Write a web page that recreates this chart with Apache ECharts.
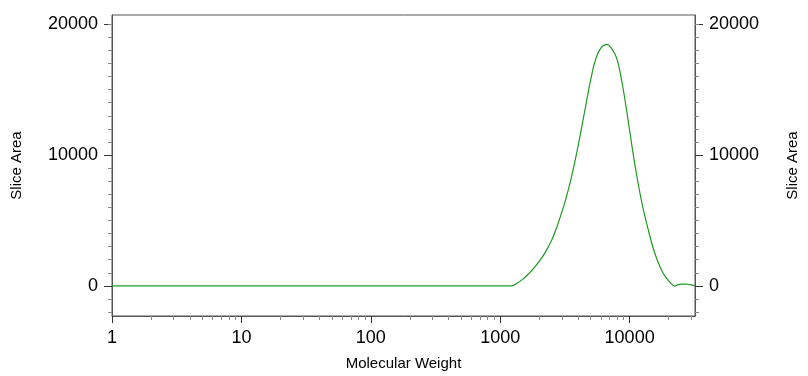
<!DOCTYPE html>
<html><head><meta charset="utf-8">
<script src="https://cdn.jsdelivr.net/npm/echarts@6/dist/echarts.min.js"></script>
<style>html,body{margin:0;padding:0;background:#fff;overflow:hidden}#c{width:808px;height:376px}</style>
</head><body><div id="c"></div>
<script>
// Molecular weight (x) and slice area (y)
const molWeight = [1, 1100, 1230, 1349, 1479, 1622, 1778, 1995, 2239, 2512, 2818, 3162, 3548, 3981, 4467, 5012, 5495, 6026, 6653, 7244, 7943, 8710, 9550, 10471, 11482, 12589, 13804, 15136, 16596, 18197, 19953, 21380, 22182, 23442, 25119, 27542, 29512, 31842];
const sliceArea = [0, 0, 0, 200, 480, 830, 1250, 1850, 2600, 3550, 4850, 6400, 8300, 10600, 13200, 15800, 17400, 18200, 18450, 18150, 17400, 15600, 13200, 10550, 8150, 6100, 4450, 2950, 1800, 950, 400, 100, -20, 80, 140, 130, 100, 0];
const xMajorTicks = [1, 10, 100, 1000, 10000];
const xMinorTicks = [2,3,4,5,6,7,8,9,20,30,40,50,60,70,80,90,200,300,400,500,600,700,800,900,2000,3000,4000,5000,6000,7000,8000,9000,20000,30000];
const yMajorTicks = [0, 10000, 20000];
const yMinorTicks = [-2000,-1000,1000,2000,3000,4000,5000,6000,7000,8000,9000,11000,12000,13000,14000,15000,16000,17000,18000,19000,20000];

const xMin = 1, xMax = 32000, yMin = -2300, yMax = 20700;
const font = 'Liberation Sans, Arial, sans-serif';
const el = document.getElementById('c');
const chart = echarts.init(el, null, {renderer: 'canvas', width: 808, height: 376});
const axisLineStyle = {color: '#555', width: 1};
function yAxisDef(pos, minor) {
  return {
    type: 'value', position: pos, min: yMin, max: yMax,
    name: minor ? '' : 'Slice Area', nameLocation: 'middle', nameRotate: 90, nameGap: pos === 'left' ? 88 : 90,
    nameTextStyle: {fontFamily: font, fontSize: 15, color: '#000'},
    splitLine: {show: false},
    axisLine: {show: !minor, onZero: false, lineStyle: axisLineStyle},
    axisTick: {show: true, inside: false, length: minor ? 4 : 8, customValues: minor ? yMinorTicks : yMajorTicks,
      lineStyle: {color: minor ? '#888' : '#333'}},
    axisLabel: {show: !minor, customValues: yMajorTicks, margin: 14, fontFamily: font, fontSize: 18, color: '#000',
      formatter: v => String(v)}
  };
}
function xAxisDef(minor) {
  return {
    type: 'log', logBase: 10, min: xMin, max: xMax, position: 'bottom',
    name: minor ? '' : 'Molecular Weight', nameLocation: 'middle', nameGap: 40,
    nameTextStyle: {fontFamily: font, fontSize: 15, color: '#000'},
    splitLine: {show: false},
    axisLine: {show: !minor, onZero: false, lineStyle: axisLineStyle},
    axisTick: {show: true, inside: false, length: minor ? 4 : 7, customValues: minor ? xMinorTicks : xMajorTicks,
      lineStyle: {color: minor ? '#888' : '#333'}},
    axisLabel: {show: !minor, customValues: xMajorTicks, margin: 13, fontFamily: font, fontSize: 18, color: '#000',
      formatter: v => String(v)}
  };
}
chart.setOption({
  animation: false,
  backgroundColor: '#fff',
  grid: {left: 112, right: 104, top: 15, bottom: 57, show: true, borderColor: '#555', borderWidth: 1, containLabel: false},
  xAxis: [xAxisDef(false), xAxisDef(true)],
  yAxis: [yAxisDef('left', false), yAxisDef('left', true), yAxisDef('right', false), yAxisDef('right', true)],
  series: [{
    type: 'line', xAxisIndex: 0, yAxisIndex: 0,
    data: molWeight.map((m, i) => [m, sliceArea[i]]),
    smooth: 0.4, showSymbol: false, symbol: 'none',
    lineStyle: {color: '#1f9a1f', width: 1.2}
  }]
});
</script></body></html>
